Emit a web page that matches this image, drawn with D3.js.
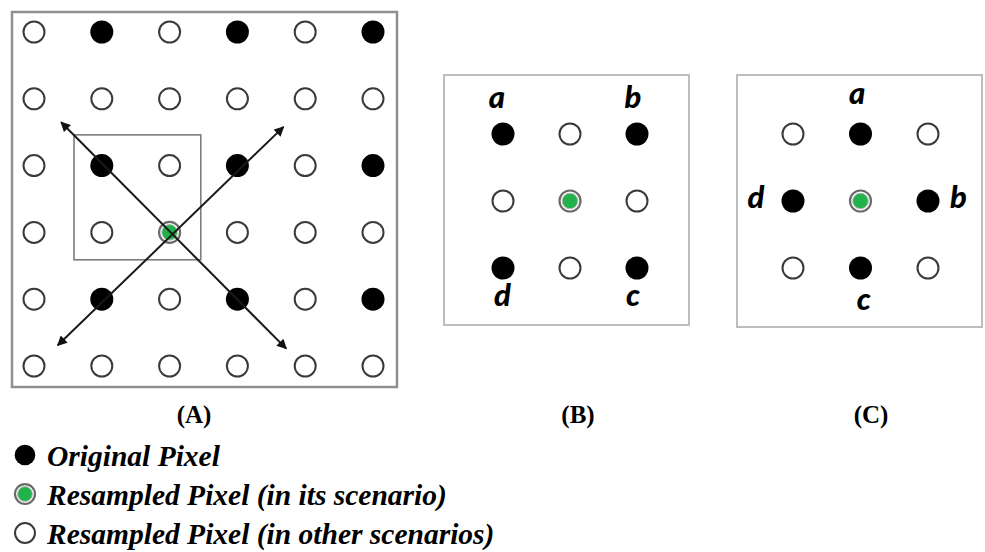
<!DOCTYPE html>
<html>
<head>
<meta charset="utf-8">
<script src="https://cdn.jsdelivr.net/npm/d3@7"></script>
<style>
  html, body { margin: 0; padding: 0; background: #fff; }
  svg { display: block; }
</style>
</head>
<body>
<svg id="fig" width="985" height="552"></svg>
<script>
// Panel A: 6x6 grid of pixel kinds ("o" original, "r" resampled in other scenarios, "g" resampled in its scenario)
const gridA = [
  ["r", "o", "r", "o", "r", "o"],
  ["r", "r", "r", "r", "r", "r"],
  ["r", "o", "r", "o", "r", "o"],
  ["r", "r", "g", "r", "r", "r"],
  ["r", "o", "r", "o", "r", "o"],
  ["r", "r", "r", "r", "r", "r"]
];
// Diagonal arrows in grid units: [colStart, rowStart, colEnd, rowEnd]
const arrowsA = [
  [0.40, 1.35, 3.72, 4.74],
  [0.35, 4.69, 3.68, 1.42]
];
// Neighbourhood window in grid units: [col0, row0, col1, row1]
const windowA = [0.59, 1.54, 2.46, 3.41];

// Panel B: 3x3 neighbourhood, corners are original pixels
const gridB = [
  ["o", "r", "o"],
  ["r", "g", "r"],
  ["o", "r", "o"]
];
const labelsB = [
  { t: "a", c: -0.09, r: -0.39 },
  { t: "b", c: 1.94, r: -0.39 },
  { t: "d", c: -0.01, r: 2.56 },
  { t: "c", c: 1.94, r: 2.56 }
];

// Panel C: 3x3 neighbourhood, edge midpoints are original pixels
const gridC = [
  ["r", "o", "r"],
  ["o", "g", "o"],
  ["r", "o", "r"]
];
const labelsC = [
  { t: "a", c: 0.95, r: -0.45 },
  { t: "d", c: -0.55, r: 1.1 },
  { t: "b", c: 2.45, r: 1.1 },
  { t: "c", c: 1.05, r: 2.62 }
];

const captions = ["(A)", "(B)", "(C)"];
const legendItems = [
  { kind: "o", text: "Original Pixel" },
  { kind: "g", text: "Resampled Pixel (in its scenario)" },
  { kind: "r", text: "Resampled Pixel (in other scenarios)" }
];

const GREEN = "#22b24c";
const svg = d3.select("#fig");

function drawPixel(g, kind, cx, cy, scale = 1) {
  if (kind === "o") {
    g.append("circle").attr("cx", cx).attr("cy", cy).attr("r", 11.5 * scale)
      .attr("fill", "#000");
  } else if (kind === "r") {
    g.append("circle").attr("cx", cx).attr("cy", cy).attr("r", 10.5 * scale)
      .attr("fill", "#fff").attr("stroke", "#3a3a3a").attr("stroke-width", 2);
  } else {
    g.append("circle").attr("cx", cx).attr("cy", cy).attr("r", 10.5 * scale)
      .attr("fill", "#fff").attr("stroke", "#6b6b6b").attr("stroke-width", 2.2);
    g.append("circle").attr("cx", cx).attr("cy", cy).attr("r", 7.8 * scale)
      .attr("fill", GREEN).attr("stroke", "#b9b9b9").attr("stroke-width", 1);
  }
}

function drawGrid(g, grid, x, y) {
  grid.forEach((row, r) => row.forEach((kind, c) => drawPixel(g, kind, x(c), y(r))));
}

// arrowheads for both ends of the diagonals
const defs = svg.append("defs");
defs.append("marker")
  .attr("id", "headEnd").attr("viewBox", "0 0 10 10")
  .attr("refX", 9).attr("refY", 5)
  .attr("markerWidth", 5.5).attr("markerHeight", 5)
  .attr("markerUnits", "strokeWidth")
  .attr("orient", "auto")
  .append("path").attr("d", "M0,0 L10,5 L0,10 Z").attr("fill", "#111");
defs.append("marker")
  .attr("id", "headStart").attr("viewBox", "0 0 10 10")
  .attr("refX", 1).attr("refY", 5)
  .attr("markerWidth", 5.5).attr("markerHeight", 5)
  .attr("markerUnits", "strokeWidth")
  .attr("orient", "auto")
  .append("path").attr("d", "M10,0 L0,5 L10,10 Z").attr("fill", "#111");

// ---- Panel A ----
const gA = svg.append("g");
gA.append("rect").attr("x", 12).attr("y", 12).attr("width", 385).attr("height", 375)
  .attr("fill", "none").attr("stroke", "#8f8f8f").attr("stroke-width", 2.5);
const xA = d3.scaleLinear().domain([0, 5]).range([34, 373]);
const yA = d3.scaleLinear().domain([0, 5]).range([32, 366]);
gA.append("rect")
  .attr("x", xA(windowA[0])).attr("y", yA(windowA[1]))
  .attr("width", xA(windowA[2]) - xA(windowA[0]))
  .attr("height", yA(windowA[3]) - yA(windowA[1]))
  .attr("fill", "none").attr("stroke", "#7d7d7d").attr("stroke-width", 1.6);
drawGrid(gA, gridA, xA, yA);
gA.selectAll("line.arrow").data(arrowsA).join("line")
  .attr("class", "arrow")
  .attr("x1", d => xA(d[0])).attr("y1", d => yA(d[1]))
  .attr("x2", d => xA(d[2])).attr("y2", d => yA(d[3]))
  .attr("stroke", "#1a1a1a").attr("stroke-width", 2)
  .attr("marker-start", "url(#headStart)").attr("marker-end", "url(#headEnd)");

// ---- Panel B ----
const gB = svg.append("g");
gB.append("rect").attr("x", 444).attr("y", 75).attr("width", 245).attr("height", 250)
  .attr("fill", "none").attr("stroke", "#bdbdbd").attr("stroke-width", 2);
const xB = d3.scaleLinear().domain([0, 2]).range([503, 637]);
const yB = d3.scaleLinear().domain([0, 2]).range([134, 268]);
drawGrid(gB, gridB, xB, yB);

// ---- Panel C ----
const gC = svg.append("g");
gC.append("rect").attr("x", 737).attr("y", 75).attr("width", 245).attr("height", 252)
  .attr("fill", "none").attr("stroke", "#bdbdbd").attr("stroke-width", 2);
const xC = d3.scaleLinear().domain([0, 2]).range([793, 928]);
const yC = d3.scaleLinear().domain([0, 2]).range([134, 268]);
drawGrid(gC, gridC, xC, yC);

// corner/edge letters
const letterFont = "Lato, 'Open Sans', sans-serif";
function drawLetters(g, labels, x, y) {
  g.selectAll("text.lbl").data(labels).join("text")
    .attr("class", "lbl")
    .attr("x", d => x(d.c)).attr("y", d => y(d.r))
    .attr("text-anchor", "middle")
    .attr("font-family", letterFont).attr("font-weight", 900)
    .attr("font-style", "italic").attr("font-size", 31)
    .attr("fill", "#000")
    .text(d => d.t);
}
drawLetters(gB, labelsB, xB, yB);
drawLetters(gC, labelsC, xC, yC);

// ---- Captions ----
const capX = d3.scaleOrdinal().domain(captions).range([194, 578, 871]);
svg.selectAll("text.cap").data(captions).join("text")
  .attr("class", "cap")
  .attr("x", d => capX(d)).attr("y", 423)
  .attr("text-anchor", "middle")
  .attr("font-family", "'Liberation Serif', 'Times New Roman', serif")
  .attr("font-weight", 700).attr("font-size", 25)
  .text(d => d);

// ---- Legend ----
const legY = d3.scalePoint().domain(legendItems.map(d => d.text)).range([455, 533]);
const gL = svg.append("g");
legendItems.forEach(d => {
  drawPixel(gL, d.kind, 25, legY(d.text), d.kind === "o" ? 0.9 : 0.95);
});
gL.selectAll("text").data(legendItems).join("text")
  .attr("x", 47).attr("y", d => legY(d.text) + 11)
  .attr("font-family", "'Liberation Serif', 'Times New Roman', serif")
  .attr("font-weight", 700).attr("font-style", "italic").attr("font-size", 29.5)
  .attr("fill", "#000")
  .text(d => d.text);
</script>
</body>
</html>
